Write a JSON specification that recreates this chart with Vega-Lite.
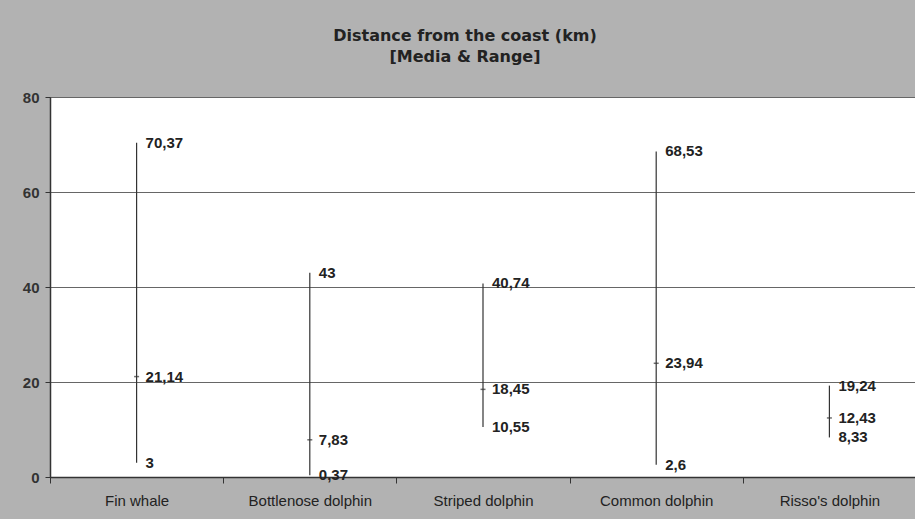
{
  "$schema": "https://vega.github.io/schema/vega-lite/v6.json",
  "width": 866,
  "height": 380,
  "autosize": {"type": "none"},
  "padding": {"left": 50, "top": 97, "right": 0, "bottom": 42},
  "background": "#b2b2b2",
  "title": {
    "text": ["Distance from the coast (km)", "[Media & Range]"],
    "fontSize": 16,
    "fontWeight": "bold",
    "font": "DejaVu Sans",
    "color": "#222222",
    "lineHeight": 21,
    "anchor": "middle",
    "dx": -18,
    "offset": 25
  },
  "config": {
    "locale": {"number": {"decimal": ",", "thousands": ".", "grouping": [3], "currency": ["", "€"]}},
    "view": {"fill": "white", "stroke": "#444444", "strokeWidth": 1},
    "font": "Liberation Sans"
  },
  "data": {
    "values": [
      {"species": "Fin whale", "min": 3, "mean": 21.14, "max": 70.37},
      {"species": "Bottlenose dolphin", "min": 0.37, "mean": 7.83, "max": 43},
      {"species": "Striped dolphin", "min": 10.55, "mean": 18.45, "max": 40.74},
      {"species": "Common dolphin", "min": 2.6, "mean": 23.94, "max": 68.53},
      {"species": "Risso's dolphin", "min": 8.33, "mean": 12.43, "max": 19.24}
    ]
  },
  "encoding": {
    "x": {
      "field": "species",
      "type": "nominal",
      "sort": null,
      "title": null,
      "scale": {"paddingInner": 0, "paddingOuter": 0},
      "axis": {
        "labelAngle": 0,
        "labelFontSize": 15,
        "labelColor": "#222222",
        "labelPadding": 10,
        "tickBand": "extent",
        "tickColor": "#333333",
        "tickSize": 6,
        "domainColor": "#333333",
        "domainWidth": 1.5,
        "grid": false
      }
    }
  },
  "layer": [
    {
      "mark": {"type": "rule", "color": "#333333", "strokeWidth": 1.2},
      "encoding": {
        "y": {
          "field": "min",
          "type": "quantitative",
          "scale": {"domain": [0, 80]},
          "title": null,
          "axis": {
            "values": [0, 20, 40, 60, 80],
            "labelFontSize": 15,
            "labelFontWeight": "bold",
            "labelColor": "#333333",
            "labelPadding": 6,
            "tickSize": 5,
            "tickColor": "#333333",
            "domainColor": "#333333",
            "domainWidth": 1.5,
            "gridColor": "#666666",
            "gridWidth": 1
          }
        },
        "y2": {"field": "max"}
      }
    },
    {
      "mark": {"type": "tick", "color": "#333333", "size": 5, "thickness": 1.5},
      "encoding": {"y": {"field": "mean", "type": "quantitative"}}
    },
    {
      "transform": [{"fold": ["min", "mean", "max"], "as": ["stat", "value"]}],
      "mark": {"type": "text", "align": "left", "baseline": "middle", "dx": 9, "fontSize": 15, "fontWeight": "bold", "color": "#222222"},
      "encoding": {
        "y": {"field": "value", "type": "quantitative"},
        "text": {"field": "value", "type": "quantitative", "format": "~g"}
      }
    }
  ]
}
